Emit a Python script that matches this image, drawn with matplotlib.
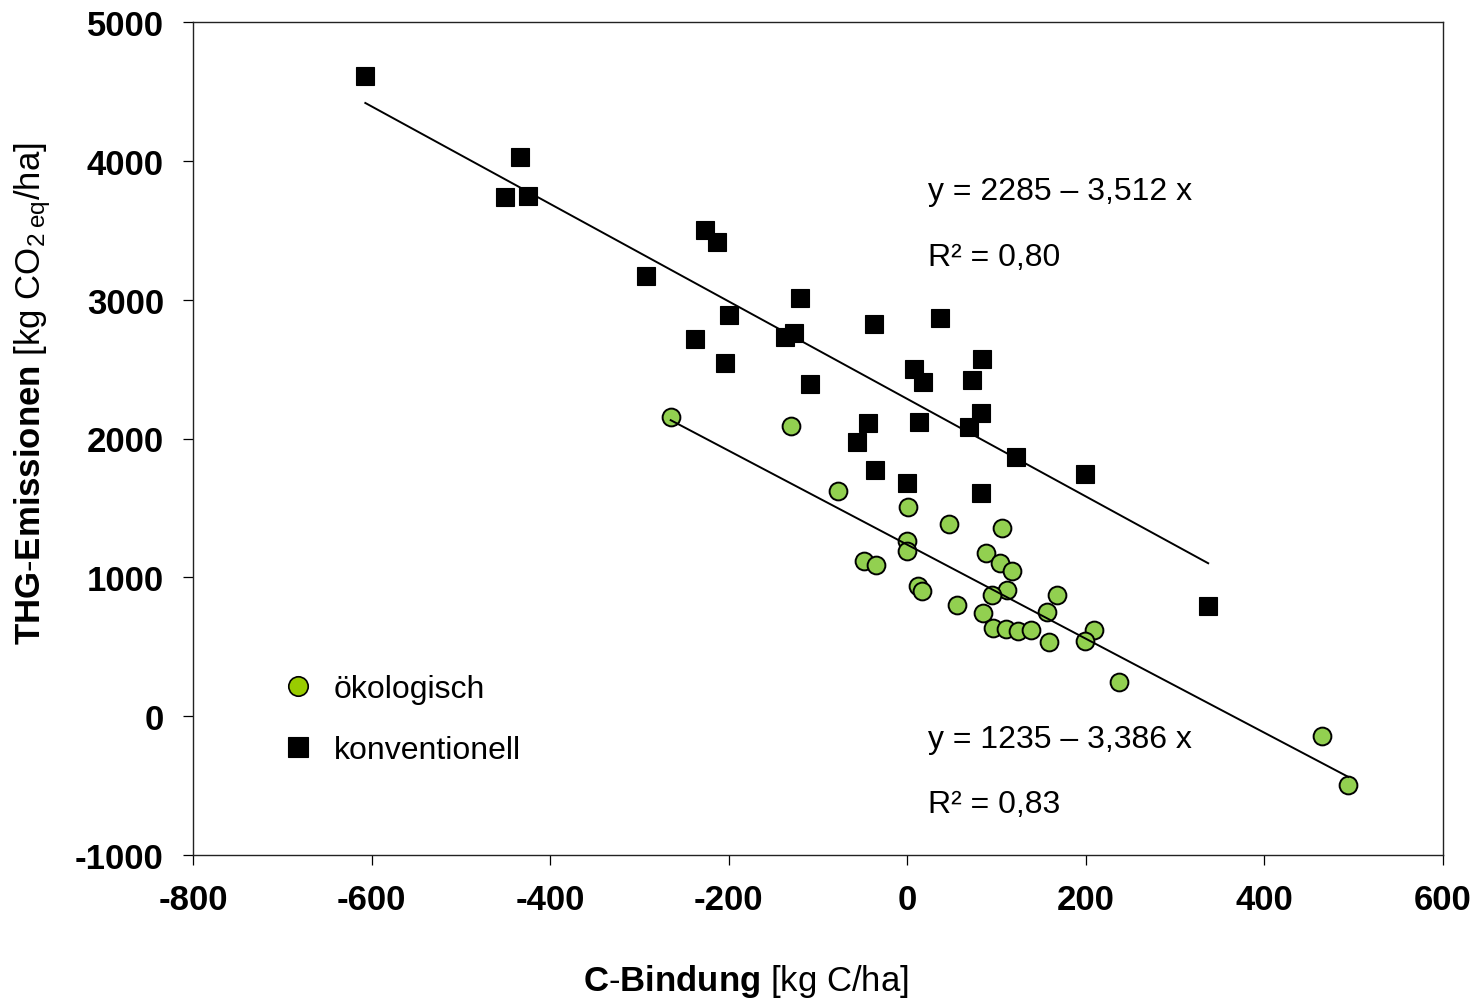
import numpy as np
import matplotlib
matplotlib.use("Agg")
import matplotlib.pyplot as plt
from matplotlib.lines import Line2D

plt.rcParams['font.family'] = ['Liberation Sans', 'DejaVu Sans']
plt.rcParams['mathtext.fontset'] = 'custom'
plt.rcParams['mathtext.rm'] = 'Liberation Sans'
plt.rcParams['mathtext.bf'] = 'Liberation Sans:bold'
plt.rcParams['mathtext.it'] = 'Liberation Sans:italic'
plt.rcParams['axes.unicode_minus'] = False

# konventionelle Betriebe: C-Bindung [kg C/ha], THG-Emissionen [kg CO2eq/ha]
konv_x = [-607, -434, -450, -425, -227, -213, -293, -120, -200, -37, 37, -238,
          -127, -137, -204, 84, 8, 18, 73, -109, -44, 13, 83, 69, -56, 122,
          -36, 0, 199, 83, 337]
konv_y = [4611, 4028, 3740, 3747, 3502, 3416, 3170, 3011, 2889, 2825, 2868, 2716,
          2759, 2730, 2543, 2572, 2500, 2406, 2420, 2391, 2111, 2119, 2184, 2083,
          1974, 1866, 1772, 1678, 1743, 1606, 795]

# oekologische Betriebe
oeko_x = [-265, -130, -78, 1, 47, 106, 0, 0, -49, -35, 88, 104, 117, 12, 17,
          112, 95, 168, 56, 85, 156, 96, 111, 124, 138, 159, 209, 199, 237,
          465, 494]
oeko_y = [2153, 2093, 1624, 1505, 1387, 1356, 1260, 1192, 1120, 1089, 1173, 1106,
          1044, 938, 900, 911, 875, 873, 801, 741, 753, 635, 628, 616, 623, 537,
          619, 544, 249, -140, -496]

# Regressionen: y = a + b x
konv_a, konv_b, konv_r2 = 2285, -3.512, 0.80
oeko_a, oeko_b, oeko_r2 = 1235, -3.386, 0.83

x_ticks = [-800, -600, -400, -200, 0, 200, 400, 600]
y_ticks = [-1000, 0, 1000, 2000, 3000, 4000, 5000]

W, H = 1483, 1003
fig = plt.figure(figsize=(W / 100, H / 100), dpi=100)
ax = fig.add_axes([193 / W, 1 - 856 / H, (1443 - 193) / W, (856 - 23) / H])

ax.plot(konv_x, konv_y, 's', color='black', ms=13.2, mec='black', mew=0.8,
        zorder=3)
ax.plot(oeko_x, oeko_y, 'o', color='#92D050', ms=12.8, mec='black', mew=1.4,
        zorder=4)

def fit_line(xs, a, b):
    xl = np.array([min(xs), max(xs)])
    return xl, a + b * xl

xl, yl = fit_line(konv_x, konv_a, konv_b)
ax.plot(xl, yl, color='black', lw=1.4, zorder=5)
xl, yl = fit_line(oeko_x, oeko_a, oeko_b)
ax.plot(xl, yl, color='black', lw=1.4, zorder=5)

def fmt(v, nd):
    return f"{abs(v):.{nd}f}".replace('.', ',')

tkw = dict(fontsize=23, ha='left', va='center')
ax.text(23, 3785, f"y = {konv_a} – {fmt(konv_b, 3)} x", **tkw)
ax.text(23, 3310, f"R² = {fmt(konv_r2, 2)}", **tkw)
ax.text(23, -162, f"y = {oeko_a} – {fmt(oeko_b, 3)} x", **tkw)
ax.text(23, -630, f"R² = {fmt(oeko_r2, 2)}", **tkw)

ax.set_xlim(-800, 600)
ax.set_ylim(-1000, 5000)
ax.set_xticks(x_ticks)
ax.set_yticks(y_ticks)
ax.tick_params(direction='out', length=7, width=0.9, labelsize=25)
ax.tick_params(axis='y', pad=14)
ax.tick_params(axis='x', pad=13)
for lab in ax.get_xticklabels() + ax.get_yticklabels():
    lab.set_fontweight('bold')
for sp in ax.spines.values():
    sp.set_linewidth(1.0)
    sp.set_color('#222222')

handles = [Line2D([], [], ls='', marker='o', color='#99CC00', ms=14,
                  mec='black', mew=1.2),
           Line2D([], [], ls='', marker='s', color='black', ms=14,
                  mec='black', mew=0.8)]
ax.legend(handles, ['ökologisch', 'konventionell'], loc='upper left',
          bbox_to_anchor=(282 / W, 1 - 675 / H), bbox_transform=fig.transFigure,
          frameon=False, fontsize=23, borderpad=0, borderaxespad=0,
          handlelength=1.0, handletextpad=0.62, labelspacing=0.98)

fig.text(583 / W, 1 - 991 / H,
         r"$\mathbf{C}$-$\mathbf{Bindung}$ [kg C/ha]",
         fontsize=25, ha='left', va='baseline')
fig.text(33 / W, 1 - 645 / H,
         r"$\mathbf{THG}$-$\mathbf{Emissionen}$ [kg CO$_{2\;\mathrm{eq}}$/ha]",
         fontsize=25, rotation=90, ha='center', va='bottom')

fig.savefig('out.png', dpi=100)
